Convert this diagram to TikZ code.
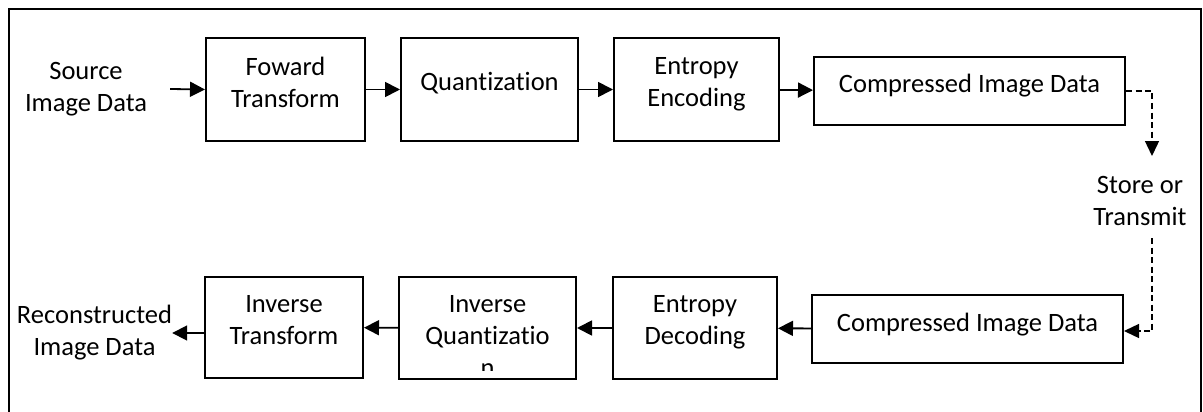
\documentclass[tikz,border=0pt]{standalone}
\usepackage{fontspec}
\setmainfont{Carlito}[Ligatures=NoCommon]
\usetikzlibrary{arrows.meta}

\begin{document}
\begin{tikzpicture}[x=1pt, y=-1pt,
    font=\fontsize{26.5}{32}\selectfont,
    block/.style={draw, line width=2pt, minimum height=103pt, inner sep=0pt},
    boxtext/.style={align=center, inner sep=0pt},
    arrow/.style={line width=1.8pt, -{Triangle[length=15pt, width=15pt]}},
    dasharrow/.style={line width=1.4pt, dash pattern=on 6pt off 3.5pt,
        -{Triangle[length=15pt, width=14pt]}}]
    \useasboundingbox (0,0) rectangle (1203,412);

    % Frame
    \draw[line width=2pt] (9,412) -- (9,9) -- (1201,9) -- (1201,412);

    % Encoder row
    \node[boxtext] (src) at (86,89) {Source\\Image Data};
    \node[block, minimum width=159pt] (fwd) at (285.5,89.5) {};
    \node[boxtext] (fwdtext) at (285.5,82) {Foward\\Transform};
    \node[block, minimum width=177pt] (quant) at (489.5,89.5) {};
    \node[boxtext] (quanttext) at (489.5,83) {Quantization};
    \node[block, minimum width=165pt] (enc) at (696.5,89.5) {};
    \node[boxtext] (enctext) at (696.5,84) {Entropy\\Encoding};
    \node[block, minimum width=311pt, minimum height=68pt] (comp) at (969.5,91) {};
    \node[boxtext] (comptext) at (969.5,86) {Compressed Image Data};

    \draw[arrow] ([xshift=23pt]src.east) -- (fwd.west);
    \draw[arrow] (fwd) -- (quant);
    \draw[arrow] (quant) -- (enc);
    \draw[arrow] (enc) -- (comp);

    % Decoder row
    \node[block, minimum width=311pt, minimum height=68pt] (comp2) at (967.5,329) {};
    \node[boxtext] (comp2text) at (967.5,325) {Compressed Image Data};
    \node[block, minimum width=164pt, minimum height=102pt] (dec) at (695,328) {};
    \node[boxtext] (dectext) at (695,322) {Entropy\\Decoding};
    \node[block, minimum width=177pt, minimum height=102pt] (iquant) at (487.5,328) {};
    \begin{scope}
        \clip (iquant.north west) rectangle ([yshift=10pt]iquant.south east);
        \node[boxtext] (iquanttext) at (487.5,336) {Inverse\\Quantizatio\\n};
    \end{scope}
    \node[block, minimum width=158pt, minimum height=101pt] (itr) at (284,327.5) {};
    \node[boxtext] (itrtext) at (284,320) {Inverse\\Transform};
    \node[boxtext] (rec) at (94.5,333) {Reconstructed\\Image Data};

    \draw[arrow] (comp2) -- (dec);
    \draw[arrow] (dec) -- (iquant);
    \draw[arrow] (iquant) -- (itr);
    \draw[arrow] (itr.west |- rec.east) -- (rec.east);

    % Store or transmit
    \coordinate (turnA) at (1152,91);
    \coordinate (storeTop) at (1152,156);
    \coordinate (storeBot) at (1152,238);
    \coordinate (turnB) at (1152,331);
    \node[boxtext] (store) at (1140,200.5) {Store or\\Transmit};
    \draw[dasharrow] (comp.east) -- (turnA) -- (storeTop);
    \draw[dasharrow] (storeBot) -- (turnB) -- (turnB -| comp2.east);
\end{tikzpicture}
\end{document}
